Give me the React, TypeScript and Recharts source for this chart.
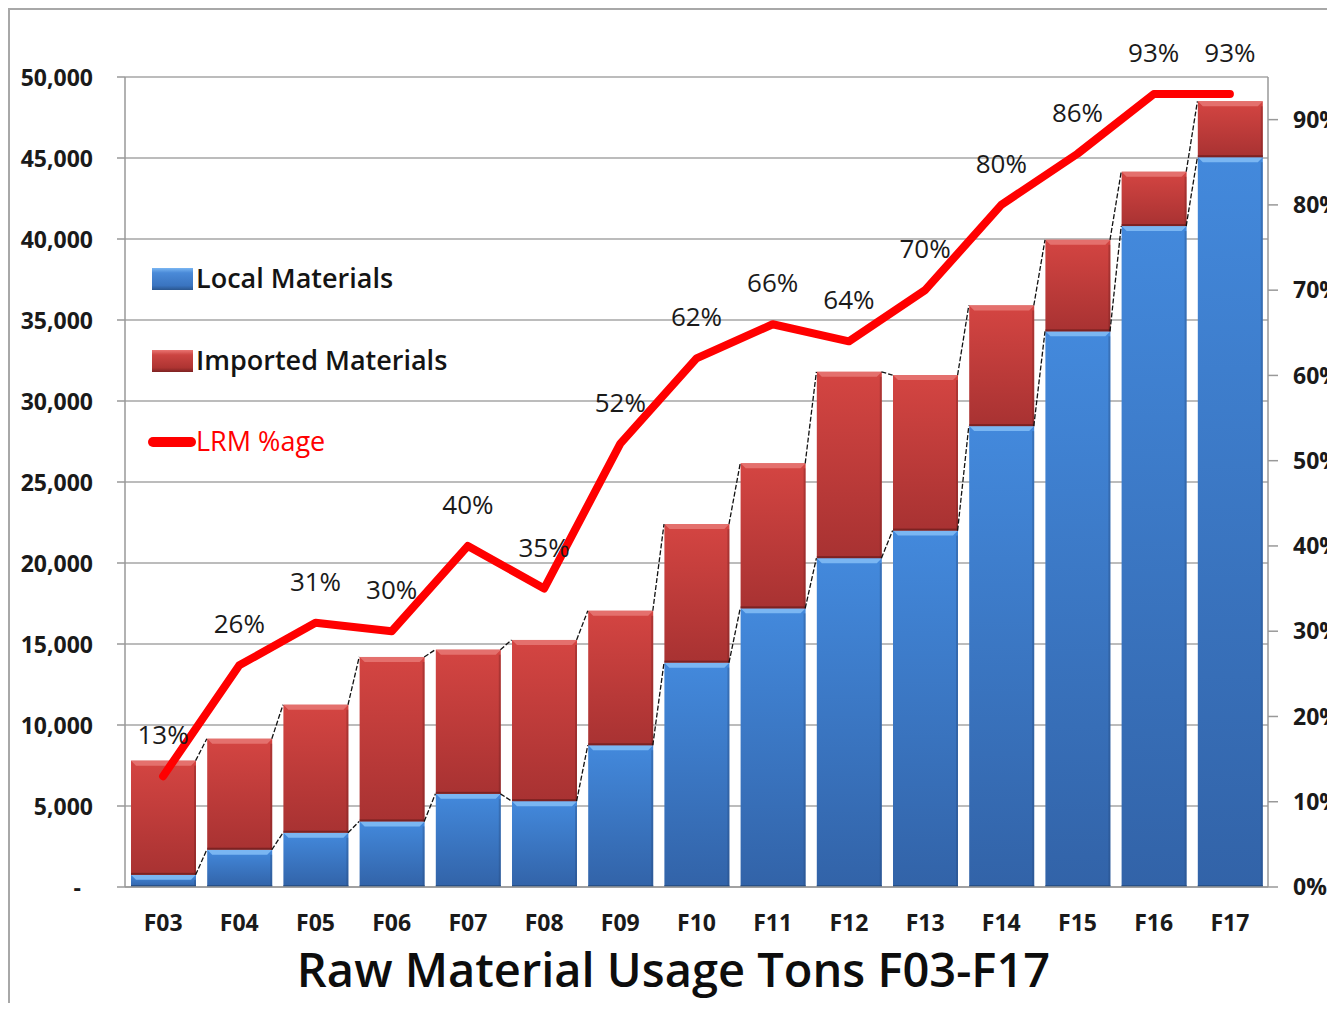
import React from 'react';
import {
  ComposedChart,
  Bar,
  Line,
  XAxis,
  YAxis,
  CartesianGrid,
  ReferenceLine,
  LabelList,
  Legend,
} from 'recharts';

const categories = ['F03', 'F04', 'F05', 'F06', 'F07', 'F08', 'F09', 'F10', 'F11', 'F12', 'F13', 'F14', 'F15', 'F16', 'F17'];
const localTons = [750, 2300, 3350, 4050, 5750, 5300, 8750, 13850, 17200, 20300, 22000, 28450, 34300, 40800, 45050];
const importedTons = [7050, 6850, 7900, 10150, 8900, 9950, 8300, 8550, 8950, 11500, 9600, 7450, 5650, 3350, 3450];
const lrmPct = [13, 26, 31, 30, 40, 35, 52, 62, 66, 64, 70, 80, 86, 93, 93];
const leftTicks = [0, 5000, 10000, 15000, 20000, 25000, 30000, 35000, 40000, 45000, 50000];
const rightTicks = [0, 10, 20, 30, 40, 50, 60, 70, 80, 90];
const titleText = 'Raw Material Usage Tons F03-F17';

const data = categories.map((name, i) => ({
  x: i + 1,
  name,
  local: localTons[i],
  imported: importedTons[i],
  total: localTons[i] + importedTons[i],
  pct: lrmPct[i],
}));

const FONT = '"Open Sans", sans-serif';
const HALF_BAR = 0.4265; // half bar width in category units (connector endpoints)

function makeBevel(gradId: string, hi: string, lo: string) {
  return (p: any) => {
    const { x, y, width: w, height: h } = p;
    if (h == null || h <= 0 || w == null) return <g />;
    const b = Math.min(5, h / 2);
    return (
      <g>
        <rect x={x} y={y} width={w} height={h} fill={`url(#${gradId})`} />
        <polygon points={`${x},${y} ${x + w},${y} ${x + w - b},${y + b} ${x + b},${y + b}`} fill={hi} />
        <rect x={x} y={y + h - 2} width={w} height={2} fill={lo} opacity={0.75} />
        <rect x={x + w - 2} y={y + b} width={2} height={h - b} fill={lo} opacity={0.35} />
      </g>
    );
  };
}

const LeftTick = (props: any) => {
  const { x, y, payload } = props;
  const v = payload.value;
  const label = v === 0 ? '-' : v.toLocaleString('en-US');
  return (
    <text
      x={v === 0 ? x - 12 : x}
      y={y}
      textAnchor="end"
      dominantBaseline="central"
      fontFamily={FONT}
      fontSize={23}
      fontWeight={700}
      fill="#1a1a1a"
    >
      {label}
    </text>
  );
};

const renderLegend = () => {
  const textStyle: React.CSSProperties = {
    position: 'absolute',
    left: 48,
    height: 40,
    lineHeight: '40px',
    fontSize: 27,
    fontWeight: 600,
    fontFamily: FONT,
    whiteSpace: 'nowrap',
    color: '#141414',
  };
  const rectBase: React.CSSProperties = {
    position: 'absolute',
    left: 4,
    width: 41,
    height: 22,
  };
  return (
    <div style={{ position: 'relative', width: 400, height: 220 }}>
      <div
        style={{
          ...rectBase,
          top: 13,
          background: 'linear-gradient(to bottom, #7ab6f2 0%, #4a8ad8 22%, #3a74c0 80%, #2a568f 100%)',
        }}
      />
      <div style={{ ...textStyle, top: 3 }}>Local Materials</div>
      <div
        style={{
          ...rectBase,
          top: 95,
          background: 'linear-gradient(to bottom, #ea7572 0%, #cc4542 22%, #ae3432 80%, #7e2222 100%)',
        }}
      />
      <div style={{ ...textStyle, top: 85 }}>Imported Materials</div>
      <div
        style={{
          position: 'absolute',
          left: 0,
          top: 182,
          width: 48,
          height: 10,
          borderRadius: 5,
          background: '#ff0000',
        }}
      />
      <div style={{ ...textStyle, top: 166, color: '#ff0000', fontWeight: 400 }}>LRM %age</div>
    </div>
  );
};

export default function App() {
  const connectors: React.ReactNode[] = [];
  for (let i = 0; i < data.length - 1; i++) {
    connectors.push(
      <ReferenceLine
        key={`cl${i}`}
        yAxisId="left"
        segment={[
          { x: data[i].x + HALF_BAR, y: data[i].local },
          { x: data[i + 1].x - HALF_BAR, y: data[i + 1].local },
        ]}
        stroke="#111"
        strokeWidth={1.3}
        strokeDasharray="5 2"
      />
    );
    connectors.push(
      <ReferenceLine
        key={`ct${i}`}
        yAxisId="left"
        segment={[
          { x: data[i].x + HALF_BAR, y: data[i].total },
          { x: data[i + 1].x - HALF_BAR, y: data[i + 1].total },
        ]}
        stroke="#111"
        strokeWidth={1.3}
        strokeDasharray="5 2"
      />
    );
  }

  return (
    <div
      style={{
        width: 1325,
        height: 993,
        borderTop: '2px solid #a8a8a8',
        borderLeft: '2px solid #a8a8a8',
        fontFamily: FONT,
        background: '#fff',
      }}
    >
      <ComposedChart
        width={1325}
        height={993}
        data={data}
        margin={{ top: 67, right: 0, left: 0, bottom: 0 }}
      >
        <defs>
          <linearGradient id="gradBlue" x1="0" y1="0" x2="0" y2="1">
            <stop offset="0%" stopColor="#4389dc" />
            <stop offset="100%" stopColor="#3263a8" />
          </linearGradient>
          <linearGradient id="gradRed" x1="0" y1="0" x2="0" y2="1">
            <stop offset="0%" stopColor="#d44542" />
            <stop offset="100%" stopColor="#a83232" />
          </linearGradient>
        </defs>
        <CartesianGrid yAxisId="left" vertical={false} stroke="#a6a6a6" strokeWidth={1.5} />
        <XAxis
          dataKey="x"
          type="number"
          domain={[0.5, 15.5]}
          ticks={data.map((d) => d.x)}
          tickFormatter={(v: number) => categories[v - 1] ?? ''}
          axisLine={{ stroke: '#999', strokeWidth: 1.5 }}
          tickLine={false}
          tickSize={0}
          tickMargin={28}
          height={116}
          tick={{ fontFamily: FONT, fontSize: 23, fontWeight: 700, fill: '#1a1a1a' }}
          label={{
            value: titleText,
            position: 'insideBottom',
            offset: 16,
            dx: -23,
            fontFamily: FONT,
            fontSize: 47,
            fontWeight: 600,
            fill: '#0d0d0d',
          }}
        />
        <YAxis
          yAxisId="left"
          domain={[0, 50000]}
          ticks={leftTicks}
          width={115}
          tickSize={8}
          tickMargin={24}
          axisLine={{ stroke: '#999', strokeWidth: 1.5 }}
          tickLine={{ stroke: '#999', strokeWidth: 1.5 }}
          tick={<LeftTick />}
          interval={0}
        />
        <YAxis
          yAxisId="right"
          orientation="right"
          domain={[0, 95]}
          ticks={rightTicks}
          width={67}
          tickSize={10}
          tickMargin={15}
          axisLine={{ stroke: '#999', strokeWidth: 1.5 }}
          tickLine={{ stroke: '#999', strokeWidth: 1.5 }}
          tickFormatter={(v: number) => `${v}%`}
          tick={{ fontFamily: FONT, fontSize: 23, fontWeight: 700, fill: '#1a1a1a', textAnchor: 'start' }}
          interval={0}
        />
        <Legend
          layout="vertical"
          align="center"
          verticalAlign="middle"
          content={renderLegend}
          wrapperStyle={{ position: 'absolute', left: 138, top: 245, width: 400, height: 220 }}
        />
        <Bar
          yAxisId="left"
          dataKey="local"
          name="Local Materials"
          stackId="s"
          barSize={65}
          fill="#3b78c6"
          shape={makeBevel('gradBlue', '#7ab6f2', '#24497c')}
          isAnimationActive={false}
        />
        <Bar
          yAxisId="left"
          dataKey="imported"
          name="Imported Materials"
          stackId="s"
          barSize={65}
          fill="#c03c3a"
          shape={makeBevel('gradRed', '#e4706d', '#6e1e1e')}
          isAnimationActive={false}
        />
        {connectors}
        <Line
          yAxisId="right"
          dataKey="pct"
          name="LRM %age"
          type="linear"
          stroke="#ff0000"
          strokeWidth={8}
          strokeLinecap="round"
          strokeLinejoin="round"
          dot={false}
          activeDot={false}
          isAnimationActive={false}
        >
          <LabelList
            dataKey="pct"
            position="top"
            offset={32}
            formatter={(v: any) => `${v}%`}
            fontFamily={FONT}
            fontSize={26}
            fill="#1a1a1a"
          />
        </Line>
      </ComposedChart>
    </div>
  );
}
